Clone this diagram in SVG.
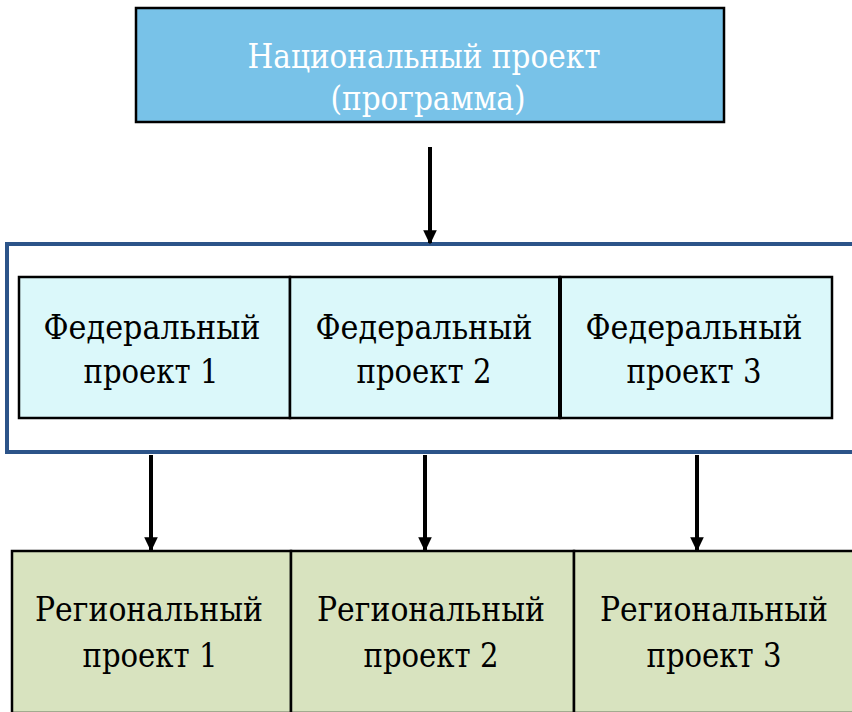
<svg xmlns="http://www.w3.org/2000/svg" width="852" height="712" viewBox="0 0 852 712">
<style>
.t{font-family:"DejaVu Serif",serif;font-size:34px;text-anchor:middle;fill:#000}
.white{fill:#fff}
.box{stroke:#000;stroke-width:2.5}
.conn{stroke:#000;stroke-width:4;fill:none;marker-end:url(#ah)}
</style>
<defs>
<marker id="ah" markerWidth="4" markerHeight="4" refX="3.2" refY="2" orient="auto" markerUnits="strokeWidth">
<path d="M0,0.3 L3.6,2 L0,3.7 Z" fill="#000"/>
</marker>
</defs>
<rect width="852" height="712" fill="#fff"/>
<g font-family="DejaVu Serif, serif">
<g id="national">
<rect class="box" x="136" y="8" width="588" height="114" fill="#78c2e8"/>
<text class="t white" x="424" y="68" textLength="353" lengthAdjust="spacingAndGlyphs">Национальный проект</text>
<text class="t white" x="428" y="110" textLength="195" lengthAdjust="spacingAndGlyphs">(программа)</text>
</g>
<g id="container">
<rect x="7" y="244" width="850" height="208" fill="#fff" stroke="#2c5489" stroke-width="4"/>
</g>
<g id="fed1">
<rect class="box" x="19" y="277" width="271" height="141" fill="#dbf8fa"/>
<text class="t" x="152" y="339" textLength="217" lengthAdjust="spacingAndGlyphs">Федеральный</text>
<text class="t" x="151" y="383" textLength="135" lengthAdjust="spacingAndGlyphs">проект 1</text>
</g>
<g id="fed2">
<rect class="box" x="290" y="277" width="270" height="141" fill="#dbf8fa"/>
<text class="t" x="424" y="339" textLength="217" lengthAdjust="spacingAndGlyphs">Федеральный</text>
<text class="t" x="424" y="383" textLength="135" lengthAdjust="spacingAndGlyphs">проект 2</text>
</g>
<g id="fed3">
<rect class="box" x="560" y="277" width="272" height="141" fill="#dbf8fa"/>
<line x1="560" y1="277" x2="560" y2="418" stroke="#000" stroke-width="4"/>
<text class="t" x="694" y="339" textLength="217" lengthAdjust="spacingAndGlyphs">Федеральный</text>
<text class="t" x="694" y="383" textLength="135" lengthAdjust="spacingAndGlyphs">проект 3</text>
</g>
<g id="reg1">
<rect class="box" x="12" y="551" width="279" height="162" fill="#d8e3bf"/>
<text class="t" x="149" y="621" textLength="228" lengthAdjust="spacingAndGlyphs">Региональный</text>
<text class="t" x="150" y="667" textLength="135" lengthAdjust="spacingAndGlyphs">проект 1</text>
</g>
<g id="reg2">
<rect class="box" x="291" y="551" width="283" height="162" fill="#d8e3bf"/>
<text class="t" x="431" y="621" textLength="228" lengthAdjust="spacingAndGlyphs">Региональный</text>
<text class="t" x="431" y="667" textLength="135" lengthAdjust="spacingAndGlyphs">проект 2</text>
</g>
<g id="reg3">
<rect class="box" x="574" y="551" width="282" height="162" fill="#d8e3bf"/>
<text class="t" x="714" y="621" textLength="228" lengthAdjust="spacingAndGlyphs">Региональный</text>
<text class="t" x="714" y="667" textLength="135" lengthAdjust="spacingAndGlyphs">проект 3</text>
</g>
</g>
<g id="connectors">
<line class="conn" x1="430" y1="147" x2="430" y2="243"/>
<line class="conn" x1="151" y1="455" x2="151" y2="550"/>
<line class="conn" x1="425" y1="455" x2="425" y2="550"/>
<line class="conn" x1="697" y1="455" x2="697" y2="550"/>
</g>
</svg>
